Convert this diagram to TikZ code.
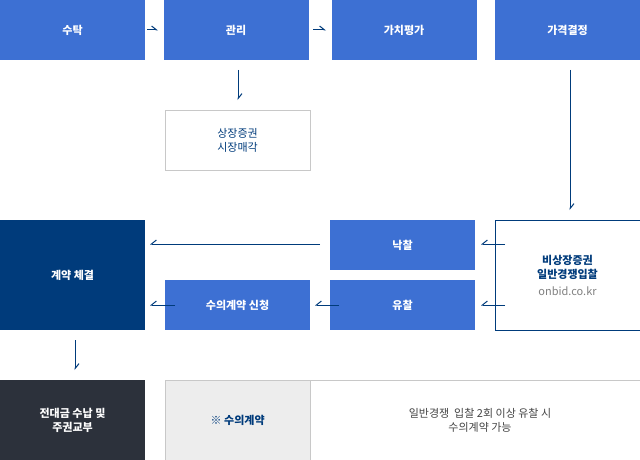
\documentclass[tikz,border=0pt]{standalone}
\usepackage{fontspec}
\setmainfont{Noto Sans CJK KR}
\usetikzlibrary{arrows.meta,positioning}
\definecolor{stepblue}{HTML}{3D70D3}
\definecolor{navy}{HTML}{003B7B}
\definecolor{darkslate}{HTML}{2C313B}
\definecolor{linegray}{HTML}{C8C8C8}
\definecolor{textgray}{HTML}{444444}

\begin{document}
\begin{tikzpicture}[x=1pt,y=-1pt,font=\fontsize{11}{14}\selectfont,
    box/.style={minimum width=145pt, minimum height=60pt, inner sep=0pt, align=center},
    bluebox/.style={box, fill=stepblue, text=white, font=\fontsize{11}{14}\selectfont\bfseries},
    halfbox/.style={bluebox, minimum height=50pt},
    conn/.style={draw=navy, line width=1pt},
    tipl/.style={conn, -{Straight Barb[left, length=5pt, width=8pt]}},
    tipr/.style={conn, -{Straight Barb[right, length=5pt, width=8pt]}}
  ]
  \useasboundingbox (0,0) rectangle (640,460);
  % top row
  \node[bluebox] (trust) at (72.5,30) {수탁};
  \node[bluebox] (manage) at (236,30) {관리};
  \node[bluebox] (value) at (404,30) {가치평가};
  \node[bluebox] (price) at (567.5,30) {가격결정};
  \node[box, minimum width=145pt, draw=linegray, text=navy] (listed) at (237.5,140)
    {상장증권\\시장매각};
  % middle rows
  \node[box, minimum height=110pt, draw=navy, line width=1pt, font=\fontsize{11}{14}\selectfont] (bid) at (567.5,275)
    {{\bfseries\textcolor{navy}{비상장증권}}\\{\bfseries\textcolor{navy}{일반경쟁입찰}}\\[3pt]{\color{gray}onbid.co.kr}};
  \node[halfbox] (won) at (402.5,245) {낙찰};
  \node[halfbox] (fail) at (402.5,305) {유찰};
  \node[halfbox] (apply) at (237.5,305) {수의계약 신청};
  \node[box, minimum height=110pt, fill=navy, text=white, font=\fontsize{11}{14}\selectfont\bfseries] (contract) at (72.5,275) {계약 체결};
  % bottom row
  \node[box, minimum height=80pt, fill=darkslate, text=white, font=\fontsize{11}{14}\selectfont\bfseries] (pay) at (72.5,420)
    {전대금 수납 및\\주권교부};
  \node[box, minimum width=475pt, minimum height=80pt, draw=linegray, anchor=west] (note) at (165,420) {};
  \node[box, minimum height=80pt, fill=black!7, draw=linegray, text=navy, font=\fontsize{11}{14}\selectfont\bfseries, anchor=west] (notehead) at (165,420) {※ 수의계약};
  \node[text=textgray, align=center] (notetext) at (480,420) {일반경쟁\ \ 입찰 2회 이상 유찰 시\\수의계약 가능};
  % connectors
  \coordinate (t1) at (147,30); \coordinate (t2) at (158,30);
  \draw[tipl] (t1) -- (t2);
  \coordinate (v1) at (313,30); \coordinate (v2) at (326,30);
  \draw[tipl] (v1) -- (v2);
  \coordinate (m1) at (238,70); \coordinate (m2) at (238,100);
  \draw[tipl] (m1) -- (m2);
  \coordinate (p1) at (570,70); \coordinate (p2) at (570,210);
  \draw[tipl] (p1) -- (p2);
  \coordinate (b1) at (505,244); \coordinate (b2) at (481,244);
  \draw[tipr] (b1) -- (b2);
  \coordinate (b3) at (505,305); \coordinate (b4) at (481,305);
  \draw[tipr] (b3) -- (b4);
  \coordinate (w1) at (320,244); \coordinate (w2) at (150,244);
  \draw[tipr] (w1) -- (w2);
  \coordinate (f1) at (339,305); \coordinate (f2) at (315,305);
  \draw[tipr] (f1) -- (f2);
  \coordinate (a1) at (175,305); \coordinate (a2) at (150,305);
  \draw[tipr] (a1) -- (a2);
  \coordinate (c1) at (75,340); \coordinate (c2) at (75,370);
  \draw[tipl] (c1) -- (c2);
\end{tikzpicture}
\end{document}
